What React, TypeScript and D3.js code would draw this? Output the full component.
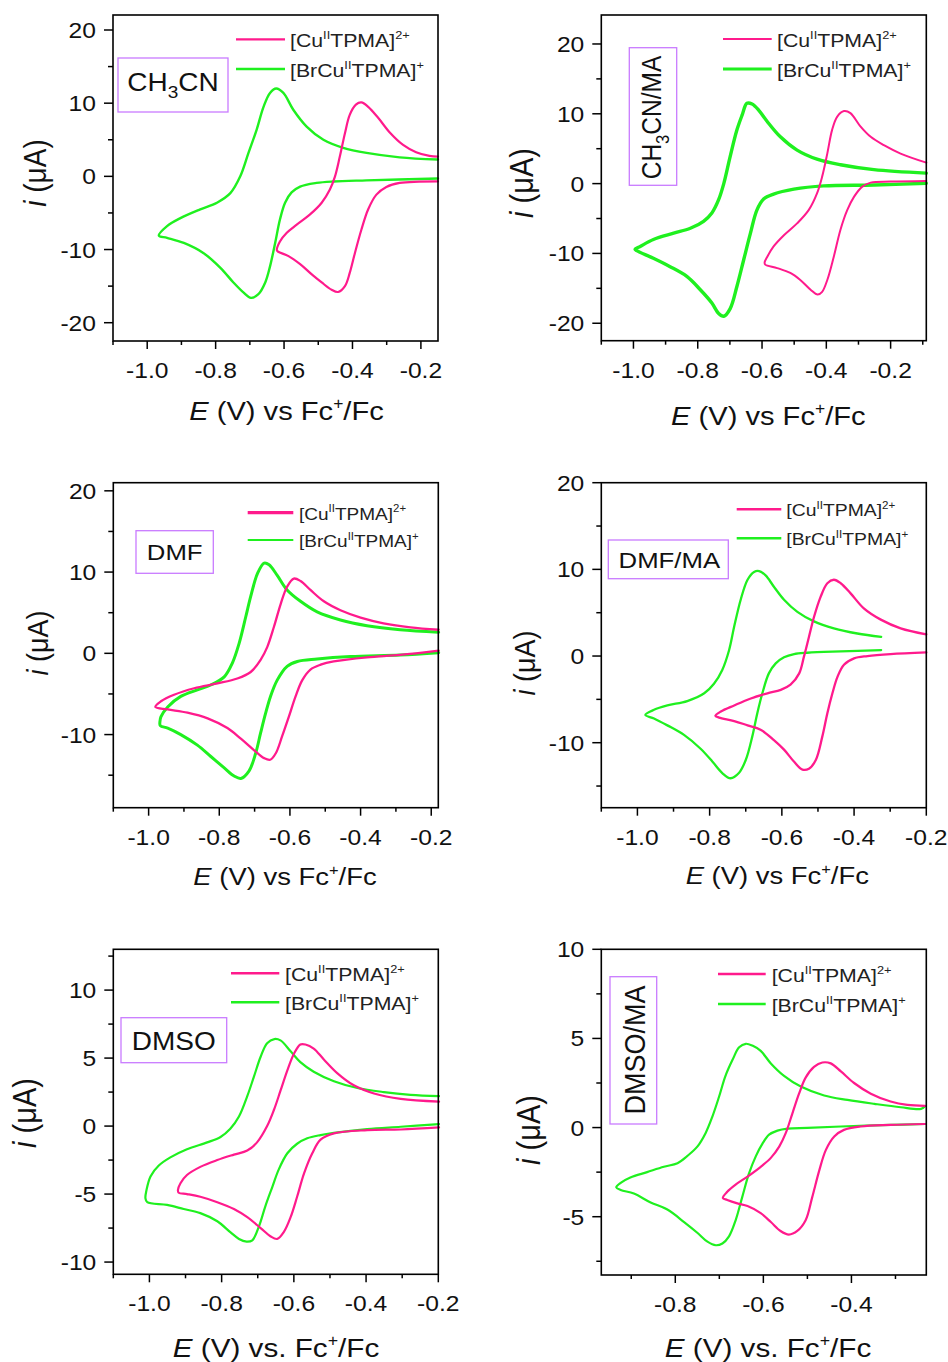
import React from 'react';
import * as d3 from 'd3';

type P = [number, number];

const PINK = '#ff1a8c';
const GREEN = '#1ff01f';
const BOX = '#c97bff';
const FONT = '"Liberation Sans", Arial, Helvetica, sans-serif';
const SX = 1.12;

// ---------- data: [E (V vs Fc+/Fc), i (uA)] traced around each voltammogram ----------
const ch3cnCu: P[] = [[-0.150,-0.68],[-0.262,-0.9],[-0.301,-1.45],[-0.330,-2.5],[-0.354,-4.5],[-0.374,-7.3],[-0.393,-10.5],[-0.408,-13.2],[-0.422,-15.0],[-0.442,-15.8],[-0.461,-15.5],[-0.490,-14.5],[-0.519,-13.4],[-0.553,-12.0],[-0.587,-10.9],[-0.617,-10.3],[-0.621,-10.1],[-0.612,-8.9],[-0.592,-7.7],[-0.563,-6.6],[-0.524,-5.2],[-0.490,-3.6],[-0.466,-1.8],[-0.451,0],[-0.437,2.7],[-0.422,5.9],[-0.408,8.4],[-0.390,9.8],[-0.374,10.1],[-0.354,9.5],[-0.325,8.0],[-0.291,6.0],[-0.252,4.3],[-0.214,3.3],[-0.175,2.8],[-0.150,2.7]];
const ch3cnBr: P[] = [[-0.150,-0.3],[-0.359,-0.55],[-0.456,-0.7],[-0.505,-0.9],[-0.553,-1.4],[-0.578,-2.2],[-0.597,-3.6],[-0.612,-5.9],[-0.626,-9.1],[-0.641,-12.3],[-0.655,-14.5],[-0.675,-16.1],[-0.697,-16.6],[-0.718,-15.9],[-0.748,-14.5],[-0.786,-12.5],[-0.835,-10.5],[-0.893,-9.1],[-0.942,-8.4],[-0.966,-8.1],[-0.942,-6.8],[-0.903,-5.7],[-0.845,-4.5],[-0.796,-3.6],[-0.757,-2.3],[-0.728,0],[-0.704,3.2],[-0.680,6.4],[-0.660,9.5],[-0.641,11.4],[-0.623,12.0],[-0.602,11.4],[-0.573,9.1],[-0.534,6.8],[-0.485,5.0],[-0.427,3.9],[-0.359,3.2],[-0.262,2.6],[-0.150,2.3]];

const ch3cnMaCu: P[] = [[-0.089,0.38],[-0.200,0.29],[-0.262,0.14],[-0.288,-0.43],[-0.314,-1.9],[-0.335,-3.8],[-0.356,-6.6],[-0.377,-10.5],[-0.397,-13.8],[-0.413,-15.5],[-0.427,-15.9],[-0.449,-15.2],[-0.481,-13.8],[-0.512,-12.8],[-0.553,-12.1],[-0.590,-11.6],[-0.592,-11.3],[-0.584,-10.5],[-0.564,-9.0],[-0.532,-7.4],[-0.491,-5.7],[-0.455,-3.8],[-0.429,-1.4],[-0.413,1.0],[-0.397,4.3],[-0.382,7.7],[-0.366,9.6],[-0.345,10.4],[-0.325,10.1],[-0.294,8.2],[-0.262,6.7],[-0.221,5.5],[-0.169,4.3],[-0.089,3.0]];
const ch3cnMaBr: P[] = [[-0.089,0.05],[-0.252,-0.2],[-0.408,-0.33],[-0.501,-0.8],[-0.564,-1.5],[-0.595,-2.2],[-0.616,-3.8],[-0.636,-7.1],[-0.657,-10.9],[-0.678,-14.7],[-0.699,-17.9],[-0.719,-19.0],[-0.735,-18.6],[-0.756,-17.1],[-0.792,-15.2],[-0.834,-13.3],[-0.886,-11.9],[-0.938,-10.7],[-0.990,-9.6],[-0.995,-9.4],[-0.979,-9.0],[-0.938,-8.0],[-0.875,-7.1],[-0.823,-6.4],[-0.782,-5.4],[-0.756,-4.2],[-0.735,-2.3],[-0.719,0],[-0.699,3.9],[-0.678,7.7],[-0.662,9.8],[-0.647,11.5],[-0.631,11.4],[-0.610,10.5],[-0.584,8.9],[-0.543,6.7],[-0.491,4.8],[-0.429,3.5],[-0.356,2.7],[-0.252,2.0],[-0.089,1.5]];

const dmfCu: P[] = [[-0.179,0.33],[-0.288,-0.2],[-0.382,-0.5],[-0.476,-1.0],[-0.513,-1.4],[-0.542,-2.0],[-0.565,-3.3],[-0.584,-5.3],[-0.603,-7.8],[-0.622,-10.2],[-0.640,-12.3],[-0.656,-13.1],[-0.673,-12.9],[-0.702,-11.9],[-0.739,-10.5],[-0.777,-9.2],[-0.833,-8.0],[-0.890,-7.3],[-0.946,-6.9],[-0.981,-6.6],[-0.965,-5.9],[-0.928,-5.1],[-0.871,-4.3],[-0.805,-3.7],[-0.749,-3.1],[-0.711,-2.3],[-0.683,-0.8],[-0.664,0.8],[-0.645,3.3],[-0.626,6.1],[-0.608,8.2],[-0.589,9.2],[-0.570,8.9],[-0.542,7.8],[-0.504,6.4],[-0.457,5.3],[-0.400,4.4],[-0.335,3.7],[-0.259,3.2],[-0.179,2.9]];
const dmfBr: P[] = [[-0.179,0.08],[-0.288,-0.2],[-0.429,-0.4],[-0.523,-0.7],[-0.579,-1.0],[-0.608,-1.6],[-0.636,-3.3],[-0.655,-5.3],[-0.669,-7.4],[-0.683,-9.8],[-0.697,-12.3],[-0.716,-14.5],[-0.739,-15.4],[-0.758,-15.1],[-0.786,-14.1],[-0.824,-12.7],[-0.862,-11.3],[-0.909,-10.0],[-0.946,-9.2],[-0.967,-8.9],[-0.968,-8.4],[-0.965,-7.8],[-0.946,-6.6],[-0.909,-5.3],[-0.862,-4.5],[-0.824,-3.9],[-0.786,-2.9],[-0.763,-1.2],[-0.744,1.2],[-0.725,4.5],[-0.711,7.0],[-0.692,9.8],[-0.673,11.1],[-0.659,10.9],[-0.636,9.6],[-0.608,7.8],[-0.570,6.4],[-0.523,5.1],[-0.457,4.1],[-0.382,3.4],[-0.288,2.9],[-0.179,2.6]];

const dmfMaCu: P[] = [[-0.200,0.42],[-0.299,0.23],[-0.363,0],[-0.400,-0.27],[-0.428,-1.0],[-0.446,-2.4],[-0.460,-4.3],[-0.474,-6.6],[-0.488,-9.3],[-0.506,-12.0],[-0.525,-13.0],[-0.543,-13.1],[-0.566,-12.2],[-0.594,-10.8],[-0.622,-9.7],[-0.659,-8.5],[-0.695,-8.0],[-0.732,-7.5],[-0.774,-7.1],[-0.784,-6.9],[-0.769,-6.4],[-0.732,-5.7],[-0.686,-4.9],[-0.640,-4.3],[-0.603,-3.9],[-0.576,-3.3],[-0.552,-2.0],[-0.539,-0.1],[-0.525,2.2],[-0.511,4.5],[-0.493,6.8],[-0.474,8.4],[-0.456,8.8],[-0.437,8.4],[-0.409,7.2],[-0.373,5.5],[-0.326,4.2],[-0.271,3.2],[-0.200,2.5]];
const dmfMaBr: P[] = [[-0.325,0.69],[-0.437,0.54],[-0.529,0.38],[-0.566,0.23],[-0.594,-0.15],[-0.617,-0.85],[-0.636,-2.0],[-0.654,-4.3],[-0.668,-6.6],[-0.682,-9.3],[-0.700,-12.0],[-0.719,-13.5],[-0.742,-14.1],[-0.765,-13.5],[-0.792,-12.2],[-0.825,-10.7],[-0.871,-9.1],[-0.917,-8.0],[-0.954,-7.2],[-0.978,-6.8],[-0.954,-6.2],[-0.917,-5.7],[-0.862,-5.2],[-0.815,-4.3],[-0.788,-3.2],[-0.765,-1.6],[-0.746,0.7],[-0.732,3.4],[-0.714,6.5],[-0.695,8.8],[-0.677,9.7],[-0.663,9.8],[-0.645,9.3],[-0.622,8.0],[-0.594,6.5],[-0.557,5.1],[-0.511,4.0],[-0.456,3.2],[-0.391,2.6],[-0.325,2.2]];

const dmsoCu: P[] = [[-0.198,-0.1],[-0.304,-0.25],[-0.397,-0.3],[-0.489,-0.54],[-0.526,-1.0],[-0.549,-2.0],[-0.572,-3.5],[-0.591,-5.2],[-0.609,-6.7],[-0.628,-7.8],[-0.646,-8.3],[-0.665,-8.1],[-0.692,-7.5],[-0.729,-6.7],[-0.766,-6.1],[-0.812,-5.6],[-0.859,-5.2],[-0.896,-5.0],[-0.919,-4.9],[-0.921,-4.7],[-0.914,-4.2],[-0.896,-3.6],[-0.859,-3.0],[-0.812,-2.5],[-0.766,-2.1],[-0.729,-1.8],[-0.702,-1.2],[-0.674,0],[-0.655,1.2],[-0.637,2.6],[-0.618,4.1],[-0.600,5.3],[-0.582,6.0],[-0.568,6.0],[-0.545,5.7],[-0.517,4.9],[-0.480,3.9],[-0.434,3.0],[-0.378,2.4],[-0.304,2.0],[-0.198,1.8]];
const dmsoBr: P[] = [[-0.198,0.15],[-0.304,-0.05],[-0.397,-0.22],[-0.489,-0.5],[-0.526,-0.66],[-0.563,-0.9],[-0.591,-1.3],[-0.618,-2.0],[-0.642,-3.2],[-0.660,-4.5],[-0.679,-5.9],[-0.697,-7.4],[-0.715,-8.4],[-0.731,-8.5],[-0.752,-8.3],[-0.776,-7.8],[-0.812,-7.0],[-0.859,-6.4],[-0.905,-6.1],[-0.951,-5.8],[-1.006,-5.6],[-1.011,-5.3],[-1.008,-4.7],[-0.997,-3.7],[-0.974,-2.9],[-0.942,-2.3],[-0.896,-1.7],[-0.840,-1.2],[-0.803,-0.8],[-0.776,-0.2],[-0.752,0.7],[-0.729,2.2],[-0.711,3.6],[-0.692,5.1],[-0.674,6.1],[-0.654,6.4],[-0.637,6.3],[-0.609,5.5],[-0.582,4.7],[-0.545,4.0],[-0.489,3.3],[-0.424,2.8],[-0.351,2.5],[-0.277,2.3],[-0.198,2.2]];

const dmsoMaCu: P[] = [[-0.233,0.2],[-0.311,0.15],[-0.379,0.06],[-0.417,-0.13],[-0.439,-0.5],[-0.458,-1.25],[-0.473,-2.4],[-0.489,-3.9],[-0.504,-5.2],[-0.523,-5.8],[-0.542,-6.0],[-0.561,-5.8],[-0.583,-5.3],[-0.606,-4.8],[-0.636,-4.4],[-0.659,-4.25],[-0.682,-4.06],[-0.692,-3.95],[-0.682,-3.6],[-0.663,-3.2],[-0.636,-2.75],[-0.606,-2.2],[-0.583,-1.7],[-0.564,-1.07],[-0.549,-0.3],[-0.534,0.8],[-0.519,1.9],[-0.504,2.8],[-0.485,3.4],[-0.466,3.65],[-0.447,3.6],[-0.424,3.15],[-0.394,2.5],[-0.356,1.9],[-0.311,1.46],[-0.273,1.27],[-0.233,1.22]];
const dmsoMaBr: P[] = [[-0.233,0.2],[-0.311,0.15],[-0.424,0.06],[-0.500,-0.02],[-0.545,-0.06],[-0.568,-0.17],[-0.587,-0.4],[-0.602,-0.9],[-0.617,-1.6],[-0.633,-2.6],[-0.648,-3.9],[-0.663,-5.2],[-0.678,-6.1],[-0.693,-6.5],[-0.708,-6.6],[-0.727,-6.4],[-0.750,-5.9],[-0.780,-5.3],[-0.818,-4.6],[-0.856,-4.2],[-0.894,-3.7],[-0.924,-3.5],[-0.934,-3.35],[-0.924,-3.1],[-0.902,-2.8],[-0.864,-2.5],[-0.826,-2.2],[-0.795,-2.0],[-0.773,-1.6],[-0.750,-1.07],[-0.731,-0.3],[-0.716,0.6],[-0.701,1.7],[-0.686,2.9],[-0.670,3.8],[-0.655,4.5],[-0.640,4.7],[-0.625,4.6],[-0.606,4.3],[-0.583,3.6],[-0.553,2.9],[-0.515,2.3],[-0.462,1.8],[-0.409,1.55],[-0.348,1.33],[-0.288,1.14],[-0.242,1.05],[-0.233,1.2]];

// ---------- ticks ----------
const xMajorA = [-1.0, -0.8, -0.6, -0.4, -0.2];
const xMinorA = [-1.1, -0.9, -0.7, -0.5, -0.3];
const xMinorB = [-1.1, -0.9, -0.7, -0.5, -0.3, -0.1];
const xMajorC = [-0.8, -0.6, -0.4];
const xMinorC = [-0.9, -0.7, -0.5, -0.3];
const yMajor20 = [-20, -10, 0, 10, 20];
const yMajor10 = [-10, 0, 10, 20];
const yMinor20 = [-15, -5, 5, 15];
const yMajor5 = [-10, -5, 0, 5, 10];
const yMinor5 = [-7.5, -2.5, 2.5, 7.5, 12.5];
const yMajor5b = [-5, 0, 5, 10];
const yMinor5b = [-7.5, -2.5, 2.5, 7.5];

const labelCu = ['[Cu', 'II', 'TPMA]', '2+'];
const labelBr = ['[BrCu', 'II', 'TPMA]', '+'];

type Cfg = {
  frame: [number, number, number, number];
  xDom: [number, number]; yDom: [number, number];
  xMaj: number[]; xMin: number[]; yMaj: number[]; yMin: number[];
  cu: P[]; br: P[]; cuW: number; brW: number;
  leg: { x1: number; x2: number; y1: number; y2: number; tx: number; fs: number; w1: number; w2: number };
  box: { x: number; y: number; w: number; h: number; rot: boolean; tx: number; ty: number; fs: number; parts: string[] };
  xt: { cx: number; by: number; fs: number; dot: boolean };
  yt: { bx: number; cy: number; fs: number };
};

const panels: Cfg[] = [
  {
    frame: [113, 15, 438, 341], xDom: [-1.1, -0.15], yDom: [-22.5, 22.05],
    xMaj: xMajorA, xMin: xMinorA, yMaj: yMajor20, yMin: yMinor20,
    cu: ch3cnCu, br: ch3cnBr, cuW: 2.2, brW: 2.4,
    leg: { x1: 236, x2: 285, y1: 39.3, y2: 69, tx: 290, fs: 19, w1: 2.2, w2: 2.6 },
    box: { x: 118, y: 58, w: 110, h: 54, rot: false, tx: 173, ty: 90.7, fs: 25, parts: ['CH', '3', 'CN'] },
    xt: { cx: 286.5, by: 420, fs: 26, dot: false },
    yt: { bx: 46, cy: 173, fs: 28 },
  },
  {
    frame: [601.3, 15, 926.3, 340.7], xDom: [-1.1, -0.089], yDom: [-22.5, 24.15],
    xMaj: xMajorA, xMin: xMinorB, yMaj: yMajor20, yMin: yMinor20,
    cu: ch3cnMaCu, br: ch3cnMaBr, cuW: 2.0, brW: 3.4,
    leg: { x1: 723, x2: 771.7, y1: 39, y2: 69, tx: 777, fs: 19, w1: 2.0, w2: 2.8 },
    box: { x: 629.3, y: 47.7, w: 47.4, h: 137.6, rot: true, tx: 660.7, ty: 117.5, fs: 24.5, parts: ['CH', '3', 'CN/MA'] },
    xt: { cx: 768.3, by: 425, fs: 26, dot: false },
    yt: { bx: 533, cy: 183, fs: 29 },
  },
  {
    frame: [113.3, 482.7, 438.3, 807.7], xDom: [-1.1, -0.18], yDom: [-19, 21],
    xMaj: xMajorA, xMin: xMinorA, yMaj: yMajor10, yMin: yMinor20,
    cu: dmfCu, br: dmfBr, cuW: 2.3, brW: 3.0,
    leg: { x1: 247.7, x2: 293.3, y1: 512.7, y2: 540, tx: 299, fs: 17, w1: 3.2, w2: 2.0 },
    box: { x: 136, y: 530.7, w: 77.3, h: 42.6, rot: false, tx: 174.7, ty: 560, fs: 23, parts: ['DMF'] },
    xt: { cx: 285, by: 885, fs: 24.5, dot: false },
    yt: { bx: 48, cy: 643, fs: 27 },
  },
  {
    frame: [601.3, 482.7, 926.3, 807.7], xDom: [-1.1, -0.2], yDom: [-17.5, 20],
    xMaj: xMajorA, xMin: xMinorA, yMaj: yMajor10, yMin: yMinor20,
    cu: dmfMaCu, br: dmfMaBr, cuW: 2.3, brW: 2.3,
    leg: { x1: 736.7, x2: 781.3, y1: 509.3, y2: 538.3, tx: 786.3, fs: 17.3, w1: 2.6, w2: 2.6 },
    box: { x: 608.3, y: 540, w: 120, h: 38.7, rot: false, tx: 669.3, ty: 568.3, fs: 23, parts: ['DMF/MA'] },
    xt: { cx: 777.3, by: 884, fs: 24.5, dot: false },
    yt: { bx: 535, cy: 663, fs: 27 },
  },
  {
    frame: [113.3, 949.3, 438.3, 1274.3], xDom: [-1.1, -0.2], yDom: [-10.9, 13],
    xMaj: xMajorA, xMin: xMinorA, yMaj: yMajor5, yMin: yMinor5,
    cu: dmsoCu, br: dmsoBr, cuW: 2.2, brW: 2.2,
    leg: { x1: 231, x2: 279.3, y1: 973.3, y2: 1002.3, tx: 285, fs: 19, w1: 2.4, w2: 2.4 },
    box: { x: 121, y: 1017.7, w: 105.7, h: 45, rot: false, tx: 173.8, ty: 1050, fs: 25, parts: ['DMSO'] },
    xt: { cx: 276, by: 1356.7, fs: 26.5, dot: true },
    yt: { bx: 36, cy: 1113, fs: 29 },
  },
  {
    frame: [601.3, 949.3, 926.3, 1275], xDom: [-0.968, -0.23], yDom: [-8.27, 10],
    xMaj: xMajorC, xMin: xMinorC, yMaj: yMajor5b, yMin: yMinor5b,
    cu: dmsoMaCu, br: dmsoMaBr, cuW: 2.2, brW: 2.2,
    leg: { x1: 718, x2: 765.7, y1: 974, y2: 1004, tx: 771.7, fs: 19, w1: 2.4, w2: 2.4 },
    box: { x: 610, y: 976.7, w: 46.7, h: 147.3, rot: true, tx: 644.7, ty: 1050, fs: 27, parts: ['DMSO/MA'] },
    xt: { cx: 768, by: 1356.7, fs: 26.5, dot: true },
    yt: { bx: 540, cy: 1130, fs: 29 },
  },
];

function fmtX(v: number) { return v.toFixed(1); }
function fmtY(v: number) { return String(Math.round(v)); }

function Legend({ leg }: { leg: Cfg['leg'] }) {
  const rows = [
    { y: leg.y1, c: PINK, w: leg.w1, parts: labelCu },
    { y: leg.y2, c: GREEN, w: leg.w2, parts: labelBr },
  ];
  const fs = leg.fs;
  const sup = fs * 0.6;
  return (
    <g>
      {rows.map((r, i) => (
        <g key={i}>
          <line x1={leg.x1} x2={leg.x2} y1={r.y} y2={r.y} stroke={r.c} strokeWidth={r.w} />
          <text transform={`translate(${leg.tx},${r.y + fs * 0.4}) scale(${SX},1)`} fontSize={fs} fontFamily={FONT} fill="#222">
            <tspan>{r.parts[0]}</tspan>
            <tspan fontSize={sup} dy={-fs * 0.42}>{r.parts[1]}</tspan>
            <tspan fontSize={fs} dy={fs * 0.42}>{r.parts[2]}</tspan>
            <tspan fontSize={sup} dy={-fs * 0.42}>{r.parts[3]}</tspan>
          </text>
        </g>
      ))}
    </g>
  );
}

function BoxLabel({ box }: { box: Cfg['box'] }) {
  const fs = box.fs;
  const tf = box.rot
    ? `translate(${box.tx},${box.ty}) scale(${SX},1) rotate(-90)`
    : `translate(${box.tx},${box.ty}) scale(${SX},1)`;
  return (
    <g>
      <rect x={box.x} y={box.y} width={box.w} height={box.h} fill="none" stroke={BOX} strokeWidth={1.3} />
      <text transform={tf} fontSize={fs} fontFamily={FONT} textAnchor="middle" fill="#111">
        {box.parts.length === 3 ? (
          <>
            <tspan>{box.parts[0]}</tspan>
            <tspan fontSize={fs * 0.68} dy={fs * 0.3}>{box.parts[1]}</tspan>
            <tspan fontSize={fs} dy={-fs * 0.3}>{box.parts[2]}</tspan>
          </>
        ) : (
          <tspan>{box.parts[0]}</tspan>
        )}
      </text>
    </g>
  );
}

function Panel({ cfg }: { cfg: Cfg }) {
  const [l, t, r, b] = cfg.frame;
  const x = d3.scaleLinear().domain(cfg.xDom).range([l, r]);
  const y = d3.scaleLinear().domain(cfg.yDom).range([b, t]);
  const line = d3.line<P>().x(d => x(d[0])).y(d => y(d[1])).curve(d3.curveCatmullRom.alpha(0.5));
  const tickFs = 22;
  const xt = cfg.xt;
  const ytf = cfg.yt;
  return (
    <g>
      {/* curves */}
      <path d={line(cfg.br) || ''} fill="none" stroke={GREEN} strokeWidth={cfg.brW} strokeLinejoin="round" strokeLinecap="round" />
      <path d={line(cfg.cu) || ''} fill="none" stroke={PINK} strokeWidth={cfg.cuW} strokeLinejoin="round" strokeLinecap="round" />
      {/* frame */}
      <rect x={l} y={t} width={r - l} height={b - t} fill="none" stroke="#000" strokeWidth={1.6} />
      {/* x ticks */}
      {cfg.xMaj.map(v => (
        <g key={'xM' + v}>
          <line x1={x(v)} x2={x(v)} y1={b} y2={b + 8} stroke="#000" strokeWidth={1.5} />
          <text transform={`translate(${x(v)},${b + 37}) scale(${SX},1)`} fontSize={tickFs} fontFamily={FONT} textAnchor="middle" fill="#111">{fmtX(v)}</text>
        </g>
      ))}
      {cfg.xMin.map(v => (
        <line key={'xm' + v} x1={x(v)} x2={x(v)} y1={b} y2={b + 4} stroke="#000" strokeWidth={1.5} />
      ))}
      {/* y ticks */}
      {cfg.yMaj.map(v => (
        <g key={'yM' + v}>
          <line x1={l} x2={l - 9} y1={y(v)} y2={y(v)} stroke="#000" strokeWidth={1.5} />
          <text transform={`translate(${l - 17},${y(v) + 8}) scale(${SX},1)`} fontSize={tickFs} fontFamily={FONT} textAnchor="end" fill="#111">{fmtY(v)}</text>
        </g>
      ))}
      {cfg.yMin.map(v => (
        <line key={'ym' + v} x1={l} x2={l - 5} y1={y(v)} y2={y(v)} stroke="#000" strokeWidth={1.5} />
      ))}
      {/* axis titles */}
      <text transform={`translate(${xt.cx},${xt.by}) scale(${SX},1)`} fontSize={xt.fs} fontFamily={FONT} textAnchor="middle" fill="#111">
        <tspan fontStyle="italic">E</tspan>
        <tspan>{xt.dot ? ' (V) vs. Fc' : ' (V) vs Fc'}</tspan>
        <tspan fontSize={xt.fs * 0.6} dy={-xt.fs * 0.42}>+</tspan>
        <tspan fontSize={xt.fs} dy={xt.fs * 0.42}>/Fc</tspan>
      </text>
      <text transform={`translate(${ytf.bx},${ytf.cy}) scale(${SX},1) rotate(-90)`} fontSize={ytf.fs} fontFamily={FONT} textAnchor="middle" fill="#111">
        <tspan fontStyle="italic">i</tspan>
        <tspan>{' (\u03bcA)'}</tspan>
      </text>
      <Legend leg={cfg.leg} />
      <BoxLabel box={cfg.box} />
    </g>
  );
}

export default function App() {
  return (
    <svg width={948} height={1362} viewBox="0 0 948 1362"
      style={{ position: 'absolute', left: 0, top: 0, background: '#fff' }}>
      <rect x={0} y={0} width={948} height={1362} fill="#fff" />
      {panels.map((p, i) => <Panel key={i} cfg={p} />)}
    </svg>
  );
}
